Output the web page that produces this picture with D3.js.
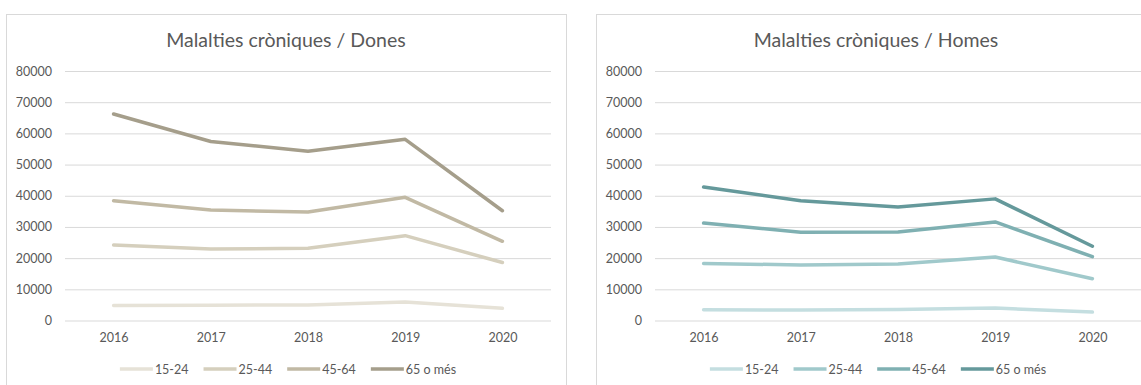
<!DOCTYPE html>
<html>
<head>
<meta charset="utf-8">
<script src="https://cdn.jsdelivr.net/npm/d3@7"></script>
<style>
  html, body { margin: 0; padding: 0; background: #ffffff; }
  svg { display: block; }
  text { font-family: Lato, "Open Sans", sans-serif; fill: #595959; }
</style>
</head>
<body>
<svg id="chart" width="1141" height="385"></svg>
<script>
// Years on the x axis
const years = ["2016", "2017", "2018", "2019", "2020"];
// Age groups (legend order)
const ageGroups = ["15-24", "25-44", "45-64", "65 o més"];
// Y axis ticks
const yTicks = [0, 10000, 20000, 30000, 40000, 50000, 60000, 70000, 80000];

// Women, per age group
const dones15_24 = [4800, 4900, 5000, 5900, 3900];
const dones25_44 = [24200, 22900, 23200, 27200, 18600];
const dones45_64 = [38400, 35400, 34800, 39500, 25400];
const dones65 = [66200, 57400, 54300, 58100, 35200];

// Men, per age group
const homes15_24 = [3450, 3350, 3500, 4000, 2700];
const homes25_44 = [18300, 17800, 18100, 20350, 13400];
const homes45_64 = [31250, 28300, 28400, 31600, 20450];
const homes65 = [42800, 38400, 36400, 39000, 23800];

const donesColors = ["#e6e2d7", "#d5cfbd", "#c1b9a4", "#a59e8b"];
const homesColors = ["#c4dee0", "#a0c9cb", "#7fb0b2", "#65999b"];

const svg = d3.select("#chart");

function drawPanel(offsetX, title, seriesList, colors) {
  const g = svg.append("g").attr("transform", `translate(${offsetX},0)`);

  // panel frame
  g.append("rect")
    .attr("x", 6.5).attr("y", 14.5)
    .attr("width", 560).attr("height", 400)
    .attr("fill", "none").attr("stroke", "#d9d9d9").attr("stroke-width", 1);

  const x = d3.scalePoint().domain(years).range([65, 551]).padding(0.5);
  const y = d3.scaleLinear().domain([0, 80000]).range([320.5, 71]);

  // title
  g.append("text")
    .attr("x", 286).attr("y", 47)
    .attr("text-anchor", "middle")
    .style("font-size", "19.5px")
    .text(title);

  // horizontal gridlines + y labels
  const yAxis = d3.axisLeft(y).tickValues(yTicks).tickSize(-486).tickPadding(13)
    .tickFormat(d3.format("d"));
  const ya = g.append("g").attr("transform", "translate(65,0)").call(yAxis);
  ya.select(".domain").remove();
  ya.selectAll(".tick line").attr("stroke", "#d9d9d9").attr("stroke-width", 1);
  ya.selectAll(".tick text")
    .style("font-size", "12.5px").style("font-family", "Lato, sans-serif")
    .attr("fill", "#595959");

  // x labels
  const xAxis = d3.axisBottom(x).tickSize(0).tickPadding(13);
  const xa = g.append("g").attr("transform", "translate(0,320.5)").call(xAxis);
  xa.select(".domain").remove();
  xa.selectAll(".tick text")
    .style("font-size", "12.5px").style("font-family", "Lato, sans-serif")
    .attr("fill", "#595959");

  // series lines
  const line = d3.line().x((d, i) => x(years[i])).y(d => y(d));
  seriesList.forEach((vals, k) => {
    g.append("path")
      .datum(vals)
      .attr("d", line)
      .attr("fill", "none")
      .attr("stroke", colors[k])
      .attr("stroke-width", 3.5)
      .attr("stroke-linejoin", "round")
      .attr("stroke-linecap", "round");
  });

  // legend
  const lg = g.append("g");
  let cx = 0;
  const items = [];
  ageGroups.forEach((name, k) => {
    const it = lg.append("g");
    it.append("line")
      .attr("x1", 0).attr("x2", 33).attr("y1", 0).attr("y2", 0)
      .attr("stroke", colors[k]).attr("stroke-width", 3.5);
    const t = it.append("text")
      .attr("x", 35).attr("y", 4.5)
      .style("font-size", "12.5px")
      .text(name);
    const w = 35 + t.node().getComputedTextLength();
    items.push({ it, w });
  });
  const gap = 15;
  const total = items.reduce((s, d) => s + d.w, 0) + gap * (items.length - 1);
  cx = 288 - total / 2;
  items.forEach(d => {
    d.it.attr("transform", `translate(${cx},369)`);
    cx += d.w + gap;
  });
}

drawPanel(0, "Malalties cròniques / Dones",
  [dones15_24, dones25_44, dones45_64, dones65], donesColors);
drawPanel(590, "Malalties cròniques / Homes",
  [homes15_24, homes25_44, homes45_64, homes65], homesColors);
</script>
</body>
</html>
